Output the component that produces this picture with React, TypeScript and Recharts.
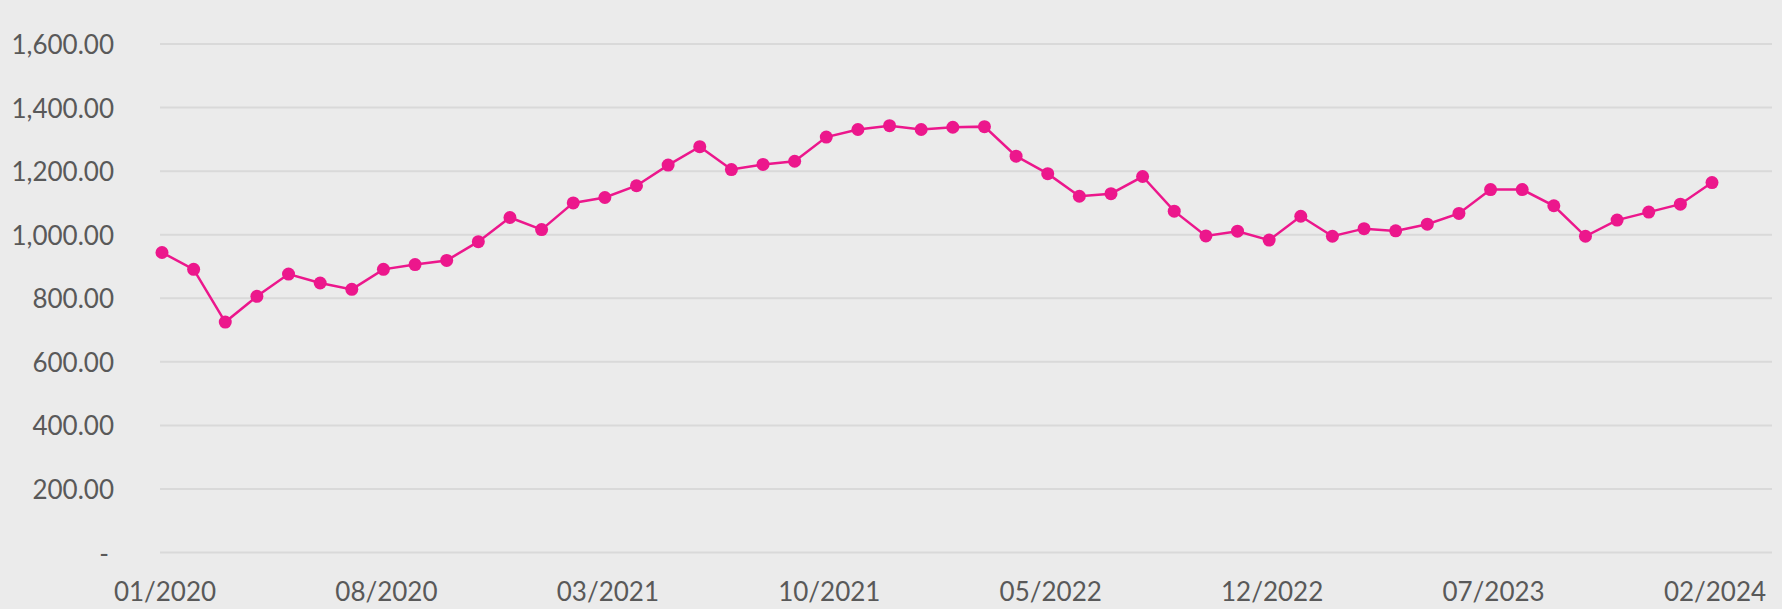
import React from "react";
import { LineChart, Line, CartesianGrid, XAxis, YAxis } from "recharts";

// monthly labels 01/2020 .. 02/2024
const months: string[] = [];
for (let y = 2020; y <= 2024; y++) {
  for (let m = 1; m <= 12; m++) {
    if (y === 2024 && m > 2) break;
    months.push(`${String(m).padStart(2, "0")}/${y}`);
  }
}

const values = [
  944, 891, 725, 806, 876, 848, 828, 891, 906, 919,
  978, 1054, 1016, 1100, 1117, 1154, 1219, 1277, 1205, 1221,
  1231, 1307, 1331, 1343, 1331, 1338, 1340, 1247, 1192, 1121,
  1129, 1183, 1074, 996, 1011, 983, 1058, 995, 1019, 1012,
  1033, 1067, 1142, 1142, 1091, 995, 1046, 1071, 1096, 1164,
];

const xTicks = ["01/2020", "08/2020", "03/2021", "10/2021", "05/2022", "12/2022", "07/2023", "02/2024"];
const yTicks = [0, 200, 400, 600, 800, 1000, 1200, 1400, 1600];

const data = months.map((month, i) => ({ month, value: values[i] }));

const TEXT = "#595959";
const PINK = "#EC178C";

const fmt = (v: number) =>
  v === 0
    ? "-"
    : v.toLocaleString("en-US", { minimumFractionDigits: 2, maximumFractionDigits: 2 });

const YTick = ({ x, y, payload }: any) => (
  <text
    x={x}
    y={y}
    dx={payload.value === 0 ? -5 : 0}
    textAnchor="end"
    dominantBaseline="central"
    fill={TEXT}
    fontSize={26}
    fontFamily="Lato"
  >
    {fmt(payload.value)}
  </text>
);

const XTick = ({ x, y, payload }: any) => (
  <text x={x} y={y} dx={3} dy="0.71em" textAnchor="middle" fill={TEXT} fontSize={26} fontFamily="Lato">
    {payload.value}
  </text>
);

export default function App() {
  return (
    <div
      style={{
        position: "absolute",
        left: 0,
        top: 0,
        width: 1782,
        height: 609,
        background: "#EBEBEB",
      }}
    >
      <LineChart
        width={1782}
        height={609}
        data={data}
        margin={{ top: 44, right: 10, bottom: 0, left: 0 }}
      >
        <CartesianGrid vertical={false} stroke="#D9D9D9" strokeWidth={2} />
        <XAxis
          dataKey="month"
          ticks={xTicks}
          interval={0}
          height={56.5}
          axisLine={false}
          tickLine={false}
          tickSize={0}
          tickMargin={30}
          padding={{ left: 2, right: 60 }}
          tick={<XTick />}
        />
        <YAxis
          domain={[0, 1600]}
          ticks={yTicks}
          width={160}
          axisLine={false}
          tickLine={false}
          tickSize={0}
          tickMargin={46}
          tick={<YTick />}
        />
        <Line
          type="linear"
          dataKey="value"
          stroke={PINK}
          strokeWidth={2.5}
          dot={{ r: 6.5, fill: PINK, stroke: "none" }}
          activeDot={false}
          isAnimationActive={false}
        />
      </LineChart>
    </div>
  );
}
